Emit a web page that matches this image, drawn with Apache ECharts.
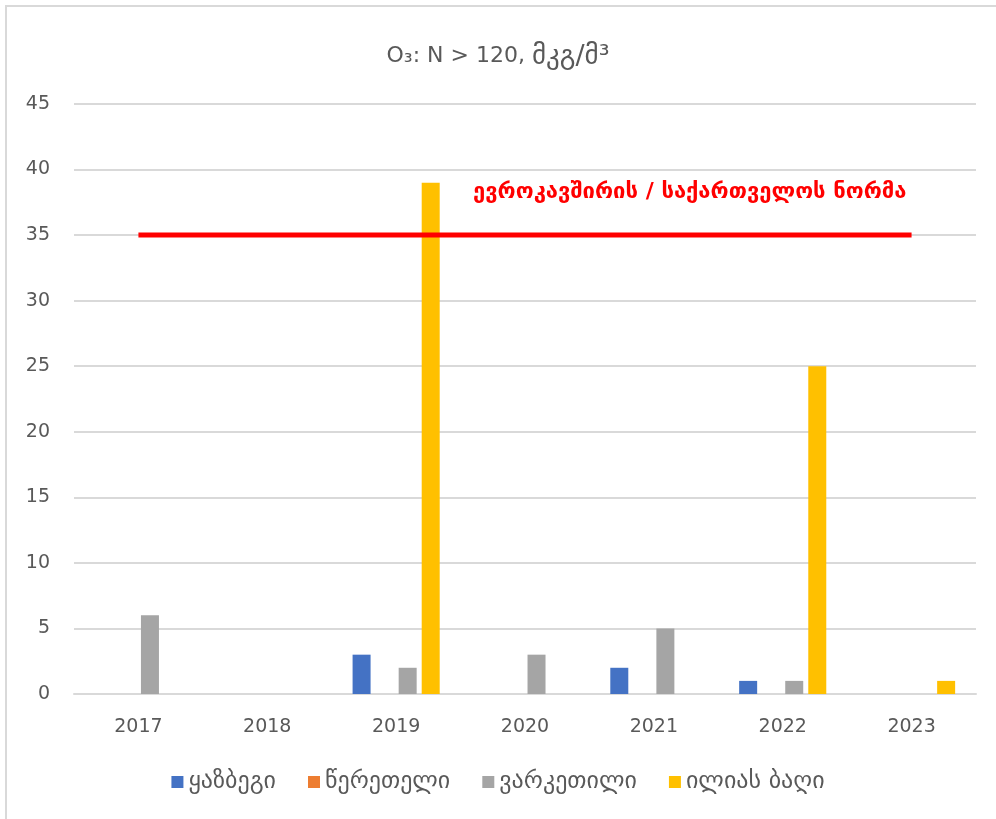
<!DOCTYPE html>
<html>
<head>
<meta charset="utf-8">
<script src="https://cdn.jsdelivr.net/npm/echarts@6/dist/echarts.min.js"></script>
<style>
  html, body { margin: 0; padding: 0; background: #fff; }
  #chart { width: 996px; height: 819px; }
</style>
</head>
<body>
<div id="chart"></div>
<script>
// Chart data
const years = ['2017', '2018', '2019', '2020', '2021', '2022', '2023'];
const kazbegi = [0, 0, 3, 0, 2, 1, 0];
const tsereteli = [0, 0, 0, 0, 0, 0, 0];
const varketili = [6, 0, 2, 3, 5, 1, 0];
const iliasBagi = [0, 0, 39, 0, 0, 25, 1];
const normValue = 35;
const normLine = years.map(() => normValue);
const normLabel = 'ევროკავშირის / საქართველოს ნორმა';

const chart = echarts.init(document.getElementById('chart'));
const font = '"DejaVu Sans", "Open Sans", sans-serif';

function barSeries(name, data, color) {
  return {
    name: name,
    type: 'bar',
    data: data,
    barWidth: 18,
    barGap: '28%',
    itemStyle: { color: color },
    animation: false
  };
}

const option = {
  backgroundColor: '#fff',
  textStyle: { fontFamily: font },
  title: {
    text: '{a|O\u2083: N > 120, }{b|მკგ/მ\u00b3}',
    left: 'center',
    top: 38,
    textStyle: {
      fontWeight: 'normal',
      rich: {
        a: { color: '#595959', fontSize: 22, fontWeight: 'normal', fontFamily: font },
        b: { color: '#595959', fontSize: 27, fontWeight: 'normal', fontFamily: font }
      }
    }
  },
  grid: { left: 74, right: 20, top: 104, bottom: 125 },
  legend: {
    bottom: 20,
    left: 'center',
    itemWidth: 12,
    itemHeight: 12,
    itemGap: 32,
    icon: 'rect',
    data: ['ყაზბეგი', 'წერეთელი', 'ვარკეთილი', 'ილიას ბაღი'],
    textStyle: { color: '#595959', fontSize: 24, fontFamily: font }
  },
  xAxis: {
    type: 'category',
    data: years,
    axisLine: { show: true, lineStyle: { color: '#d9d9d9', width: 2 } },
    axisTick: { show: false },
    axisLabel: { color: '#595959', fontSize: 19, margin: 24 }
  },
  yAxis: {
    type: 'value',
    min: 0,
    max: 45,
    interval: 5,
    axisLine: { show: false },
    axisTick: { show: false },
    axisLabel: { color: '#595959', fontSize: 19, margin: 24 },
    splitLine: { lineStyle: { color: '#d9d9d9', width: 2 } }
  },
  series: [
    barSeries('ყაზბეგი', kazbegi, '#4472c4'),
    barSeries('წერეთელი', tsereteli, '#ed7d31'),
    barSeries('ვარკეთილი', varketili, '#a5a5a5'),
    barSeries('ილიას ბაღი', iliasBagi, '#ffc000'),
    {
      name: 'norm',
      type: 'line',
      data: normLine,
      symbol: 'none',
      lineStyle: { color: '#ff0000', width: 5 },
      z: 5,
      animation: false
    }
  ],
  graphic: [
    {
      type: 'rect',
      shape: { x: 6, y: 6, width: 1200, height: 1200 },
      style: { fill: 'none', stroke: '#d9d9d9', lineWidth: 2 },
      silent: true
    },
    {
      type: 'text',
      left: 473,
      top: 181,
      style: {
        text: normLabel,
        fill: '#ff0000',
        font: 'bold 22px ' + font
      }
    }
  ]
};

chart.setOption(option);
</script>
</body>
</html>
